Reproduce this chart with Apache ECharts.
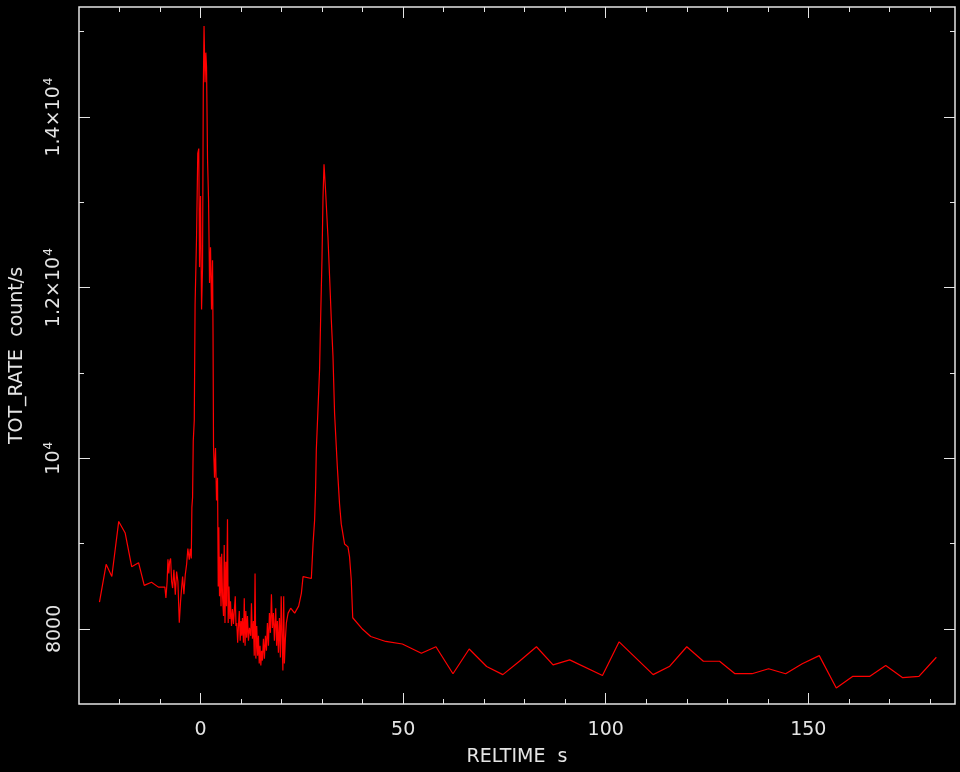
<!DOCTYPE html>
<html>
<head>
<meta charset="utf-8">
<script src="https://cdn.jsdelivr.net/npm/echarts@6/dist/echarts.min.js"></script>
<style>
  html, body { margin: 0; padding: 0; background: #000; }
  #main { width: 960px; height: 772px; }
</style>
</head>
<body>
<div id="main"></div>
<script>
// RELTIME (s) and TOT_RATE (count/s)
const times = [
  -24.95, -23.3, -21.9, -20.2, -18.6, -17.0, -15.3, -13.9, -12.1, -10.4, -8.8,
  -8.55, -8.25, -8.05, -7.83, -7.64, -7.39, -7.14, -6.90, -6.58, -6.23, -5.91, -5.59, -5.25,
  -4.93, -4.68, -4.43, -4.11, -3.77, -3.45, -3.13, -2.78, -2.54, -2.29, -2.14, -1.97, -1.80,
  -1.55, -1.35, -0.99, -0.69, -0.44, -0.25, 0.00, 0.25, 0.49, 0.67, 0.86, 1.11, 1.31, 1.48,
  1.72, 1.97, 2.22, 2.46, 2.71, 2.96, 3.08, 3.20, 3.45, 3.69, 3.94, 4.19, 4.36, 4.51, 4.68,
  4.85, 5.05, 5.22, 5.42, 5.67, 5.84, 6.03, 6.23, 6.40, 6.65, 6.82, 7.02, 7.22, 7.39, 7.64,
  7.88, 8.13, 8.37, 8.57, 8.74, 8.94, 9.16, 9.36, 9.56, 9.78, 9.98, 10.17, 10.34, 10.59,
  10.79, 10.99, 11.18, 11.38, 11.58, 11.82, 12.07, 12.39, 12.56, 12.81, 13.05, 13.25, 13.45,
  13.65, 13.87, 14.09, 14.29, 14.48, 14.68, 14.88, 15.07, 15.27, 15.52, 15.76, 16.01, 16.26,
  16.50, 16.75, 17.00, 17.24, 17.49, 17.73, 17.98, 18.23, 18.55, 18.77, 18.97, 19.21, 19.46,
  19.70, 19.90, 20.12, 20.32, 20.52, 20.69, 20.94, 21.18, 21.60, 22.24, 23.23, 24.21, 24.88,
  25.30, 25.69, 27.34, 27.76, 28.15, 28.40, 28.57, 28.99, 29.38, 29.63, 29.98, 30.22, 30.47,
  30.86, 31.45, 31.85, 32.27, 32.68, 33.08, 33.74, 34.31, 34.73, 35.54, 36.38, 36.77, 37.19,
  37.56, 40.0, 42.0, 45.7, 49.8, 54.5, 58.1, 62.3, 66.3, 70.6, 74.6, 78.7, 82.9, 87.0, 91.1,
  99.2, 103.3, 111.7, 115.8, 120.0, 124.1, 128.1, 131.9, 136.1, 140.2, 144.4, 148.5, 152.7,
  156.9, 161.0, 165.2, 169.1, 173.3, 177.3, 181.6
];
const rates = [
  8313, 8757, 8614, 9260, 9124, 8730, 8776, 8510, 8548, 8490, 8490,
  8363, 8556, 8815, 8649, 8788, 8826, 8556, 8479, 8692, 8402, 8672, 8556, 8073,
  8324, 8475, 8614, 8406, 8637, 8753, 8942, 8811, 8939, 8826, 9425, 9541, 10202,
  10445, 11800, 12588, 13573, 13631, 12241, 13075, 11743, 12241, 14292, 15068, 14408, 14755, 14581,
  13515, 13040, 12055, 12473, 11743, 12322, 11453, 10144, 9773, 10120, 9506, 9773, 8498, 9193, 8382,
  8846, 8267, 8881, 8382, 8151, 8985, 8070, 8788, 8267, 9286, 8070, 8498, 8116, 8324, 8035,
  8232, 8058, 8243, 8382, 8035, 8070, 7838, 8035, 8209, 7861, 8093, 7919, 8127, 7838,
  8359, 7803, 8209, 7896, 8151, 7861, 8012, 7919, 8301, 7884, 8093, 7687, 8649,
  7652, 8035, 7687, 7919, 7594, 7803, 7571, 7745, 7629, 7884, 7652, 7919, 7745,
  8070, 7803, 8185, 7954, 8406, 8012, 8185, 7861, 8243, 7803, 8093, 7722, 8127,
  7664, 8382, 7919, 7513, 8382, 7594, 7884, 8070, 8185, 8243, 8185, 8267, 8417,
  8614, 8591, 8591, 8996, 9275, 9657, 10097, 10584, 11047, 11627, 12357, 13052, 13446,
  13133, 12588, 12125, 11627, 11198, 10526, 9912, 9460, 9228, 8996, 8962, 8846, 8579,
  8131, 7996, 7911, 7853, 7823, 7714, 7791, 7475, 7765, 7560, 7464, 7621, 7791, 7579, 7637,
  7455, 7849, 7464, 7563, 7791, 7621, 7621, 7475, 7475, 7533, 7475, 7591, 7687,
  7308, 7444, 7444, 7571, 7429, 7444, 7668
];

// axis ranges and ticks
const xRange = [-30, 186.2];
const yRange = [7120, 15290];
const xMajor = [0, 50, 100, 150];
const xMinor = [-20, -10, 10, 20, 30, 40, 60, 70, 80, 90, 110, 120, 130, 140, 160, 170, 180];
const yMajor = [8000, 10000, 12000, 14000];
const yMinor = [9000, 11000, 13000, 15000];

const fg = '#e4e4e4';
const font = 'DejaVu Sans';

function yLabel(v) {
  if (v === 8000) return '{b|8000}';
  if (v === 10000) return '{b|10}{s|4}';
  return '{b|' + (v / 10000).toFixed(1) + '×10}{s|4}';
}

function makeX(ticks, len, opts) {
  return Object.assign({
    type: 'value', gridIndex: 0, min: xRange[0], max: xRange[1],
    axisLine: {show: false, onZero: false}, splitLine: {show: false},
    axisTick: {show: true, inside: true, length: len, customValues: ticks, lineStyle: {color: fg, width: 1}},
    axisLabel: {show: false}
  }, opts);
}
function makeY(ticks, len, opts) {
  return Object.assign({
    type: 'value', gridIndex: 0, min: yRange[0], max: yRange[1],
    axisLine: {show: false, onZero: false}, splitLine: {show: false},
    axisTick: {show: true, inside: true, length: len, customValues: ticks, lineStyle: {color: fg, width: 1}},
    axisLabel: {show: false}
  }, opts);
}

const chart = echarts.init(document.getElementById('main'));
chart.setOption({
  backgroundColor: '#000',
  animation: false,
  grid: {left: 77, right: 5, top: 7, bottom: 63, show: true, borderColor: fg, borderWidth: 1.5, backgroundColor: 'transparent'},
  xAxis: [
    makeX(xMajor, 11, {
      position: 'bottom',
      name: 'RELTIME  s', nameLocation: 'middle', nameGap: 44,
      nameTextStyle: {color: fg, fontSize: 19, fontFamily: font},
      axisLabel: {show: true, customValues: xMajor, margin: 17, color: fg, fontSize: 19, fontFamily: font}
    }),
    makeX(xMinor, 5, {position: 'bottom'}),
    makeX(xMajor, 11, {position: 'top'}),
    makeX(xMinor, 5, {position: 'top'})
  ],
  yAxis: [
    makeY(yMajor, 11, {
      position: 'left',
      name: 'TOT_RATE  count/s', nameLocation: 'middle', nameGap: 52,
      nameTextStyle: {color: fg, fontSize: 19, fontFamily: font},
      axisLabel: {
        show: true, customValues: yMajor, rotate: 90, margin: 14,
        formatter: yLabel,
        rich: {
          b: {color: fg, fontSize: 19, fontFamily: font},
          s: {color: fg, fontSize: 12, fontFamily: font, padding: [0, 0, 10, 1]}
        }
      }
    }),
    makeY(yMinor, 5, {position: 'left'}),
    makeY(yMajor, 11, {position: 'right'}),
    makeY(yMinor, 5, {position: 'right'})
  ],
  series: [{
    type: 'line',
    xAxisIndex: 0,
    yAxisIndex: 0,
    data: times.map((t, i) => [t, rates[i]]),
    showSymbol: false,
    lineStyle: {color: '#ff0000', width: 1.2},
    z: 5
  }]
});
</script>
</body>
</html>
